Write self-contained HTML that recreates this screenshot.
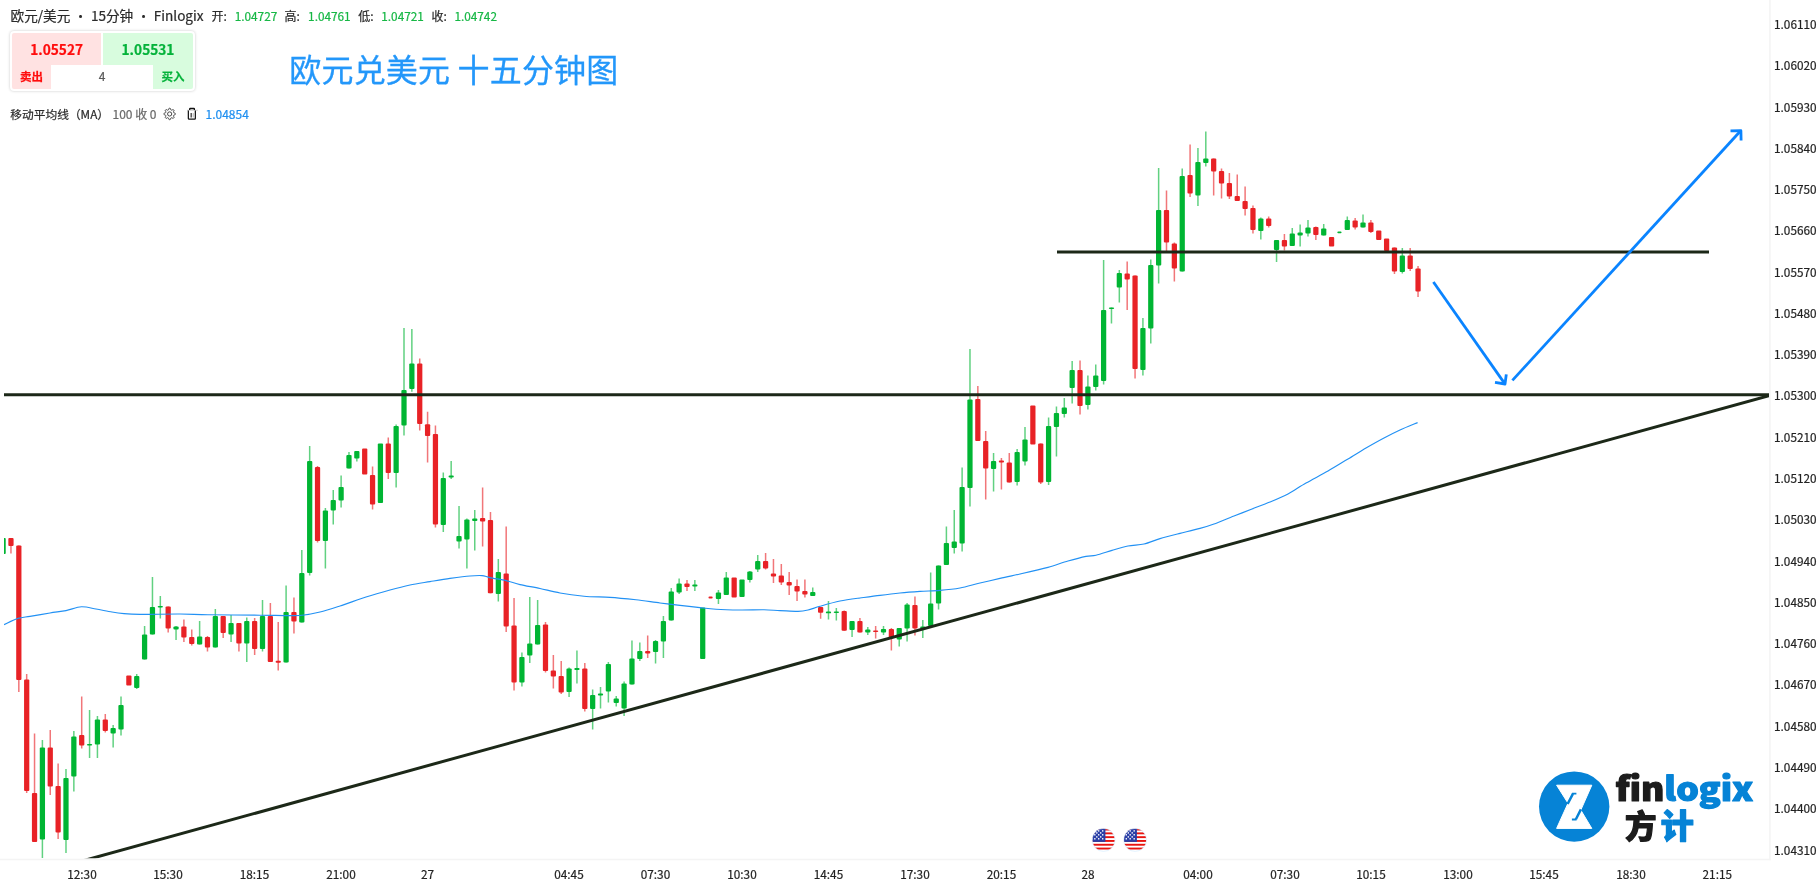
<!DOCTYPE html>
<html lang="zh-CN"><head><meta charset="utf-8"><title>欧元/美元 15分钟 Finlogix</title>
<style>
html,body{margin:0;padding:0;background:#fff}
body{width:1820px;height:885px;position:relative;overflow:hidden;font-family:"Noto Sans CJK SC","Liberation Sans",sans-serif;color:#262626}
svg{position:absolute;left:0;top:0;will-change:transform}
#txt{position:absolute;left:0;top:0;width:1820px;height:885px;will-change:transform;-webkit-text-stroke:0.22px currentColor}
.abs{position:absolute;white-space:nowrap}
.g{color:#16b745;font-size:11.8px}
</style></head><body>
<svg width="1820" height="885" viewBox="0 0 1820 885">
<defs><clipPath id="cp"><rect x="4" y="0" width="1765" height="858.3"/></clipPath></defs>
<line x1="0" y1="859.6" x2="1770.6" y2="859.6" stroke="#f4f4f4" stroke-width="1.5"/>
<line x1="1769.9" y1="0" x2="1769.9" y2="860.3" stroke="#f4f4f4" stroke-width="1.6"/>
<g clip-path="url(#cp)">
<g stroke="#e82226" stroke-width="1.5" stroke-opacity="0.62" fill="none"><path d="M10.96 538.0V553.6M18.82 545.6V692.0M26.68 674.0V793.0M34.54 733.6V842.0M50.26 730.0V795.0M58.13 763.6V839.0M81.71 696.4V748.6M105.29 714.0V732.4M168.18 606.6V632.4M183.90 619.4V642.0M191.76 629.6V645.6M207.48 636.0V651.6M223.20 616.0V638.0M238.92 623.0V651.6M254.65 618.0V655.0M270.37 603.0V662.0M278.23 622.0V670.6M293.95 597.4V633.6M317.53 466.0V542.4M372.56 466.6V509.4M388.28 437.6V479.0M419.72 358.5V430.6M427.58 411.7V462.4M435.44 425.5V527.6M482.61 487.4V546.6M490.47 512.0V593.2M506.19 526.4V632.0M514.05 598.0V690.4M545.50 622.0V672.4M553.36 655.0V688.4M561.22 661.0V694.0M584.80 663.0V711.6M647.69 635.6V658.0M686.99 580.0V591.0M765.60 553.0V569.6M773.46 559.0V583.0M781.32 564.0V585.0M789.18 572.0V595.0M797.04 579.6V601.0M804.90 579.6V597.6M820.62 607.0V618.8M844.21 610.6V630.7M859.93 618.0V632.4M875.65 626.0V638.6M891.37 628.0V650.6M914.95 596.6V635.6M977.84 386.0V441.0M985.70 431.0V499.6M1001.42 458.0V489.6M1009.28 453.0V482.4M1040.73 443.4V484.0M1080.03 360.4V414.4M1127.19 261.6V310.0M1135.06 275.6V378.6M1166.50 190.6V251.0M1174.36 242.6V281.6M1190.08 144.4V197.0M1213.66 158.6V195.4M1221.52 168.6V198.4M1229.38 173.0V199.0M1237.25 174.6V201.0M1245.11 186.6V215.6M1252.97 205.4V233.6M1268.69 216.6V227.6M1284.41 234.0V250.4M1315.85 226.6V240.0M1355.16 218.0V229.6M1370.88 220.0V233.0M1394.46 247.6V274.0M1410.18 248.0V271.0M1418.04 266.0V297.0"/></g>
<g stroke="#00b533" stroke-width="1.5" stroke-opacity="0.62" fill="none"><path d="M42.40 740.0V858.0M65.99 769.0V853.0M73.85 731.0V791.6M89.57 710.0V758.0M97.43 716.0V758.0M113.15 725.0V747.4M121.01 696.4V735.4M136.73 674.0V689.0M144.59 626.0V659.6M152.46 577.0V634.6M160.32 596.0V618.6M176.04 626.0V640.0M199.62 621.0V644.4M215.34 609.0V647.6M231.06 615.0V642.0M246.78 617.6V662.0M262.51 600.0V651.6M286.09 585.4V662.6M301.81 550.0V622.4M309.67 446.0V575.4M325.39 508.0V568.4M333.25 490.0V524.4M341.11 475.4V507.6M348.98 452.0V468.6M356.84 451.0V461.4M396.14 424.4V487.4M404.00 328.0V435.6M411.86 329.0V391.8M443.30 472.4V532.0M451.17 461.0V479.0M459.03 506.0V548.4M466.89 518.6V568.4M474.75 510.0V550.4M498.33 559.0V601.6M521.91 652.6V686.4M529.77 597.0V663.0M537.63 600.0V644.4M569.08 667.4V697.0M576.94 650.4V683.4M592.66 689.6V729.6M600.52 687.0V708.6M608.38 662.0V702.4M616.24 696.0V706.4M624.10 681.4V716.0M631.96 640.4V684.4M639.82 642.4V661.0M655.55 640.0V663.6M663.41 616.0V658.0M671.27 588.0V620.6M679.13 578.4V594.0M694.85 580.0V591.0M718.43 590.0V604.0M726.29 572.0V595.0M749.88 571.0V582.4M757.74 555.0V572.0M812.76 587.4V596.0M828.48 601.0V619.5M836.34 608.0V620.4M852.07 621.0V637.0M867.79 627.0V635.0M883.51 626.0V635.0M899.23 628.0V646.6M907.09 603.0V641.6M922.81 620.0V638.0M930.67 572.6V626.0M938.54 565.6V609.6M946.40 526.6V565.0M954.26 510.0V553.6M962.12 467.6V551.6M969.98 349.0V506.4M993.56 453.0V491.6M1017.14 449.0V485.6M1025.00 427.0V465.4M1048.59 417.6V485.0M1056.45 406.6V456.6M1064.31 398.0V417.6M1072.17 361.0V403.6M1087.89 375.6V409.6M1095.75 364.4V390.6M1103.61 260.0V384.6M1111.47 307.4V323.6M1119.33 270.0V302.4M1142.92 318.0V375.6M1150.78 259.4V343.6M1158.64 168.0V283.6M1182.22 168.6V271.6M1197.94 148.0V206.0M1205.80 131.6V166.6M1260.83 217.6V239.6M1276.55 240.0V262.0M1292.27 228.0V246.0M1300.13 224.4V246.4M1307.99 220.0V236.6M1323.71 224.0V235.6M1347.30 216.6V230.0M1363.02 214.6V227.4M1402.32 248.0V273.6"/></g>
<g fill="#e82226"><rect x="8.34" y="538.0" width="5.25" height="8.0" rx="1.0"/><rect x="16.20" y="545.6" width="5.25" height="134.4" rx="1.0"/><rect x="24.06" y="679.6" width="5.25" height="111.4" rx="1.0"/><rect x="31.92" y="793.0" width="5.25" height="49.0" rx="1.0"/><rect x="47.64" y="747.6" width="5.25" height="39.0" rx="1.0"/><rect x="55.50" y="786.0" width="5.25" height="46.4" rx="1.0"/><rect x="79.08" y="735.0" width="5.25" height="10.4" rx="1.0"/><rect x="102.67" y="719.4" width="5.25" height="11.6" rx="1.0"/><rect x="126.25" y="675.6" width="5.25" height="10.0" rx="1.0"/><rect x="165.55" y="606.6" width="5.25" height="22.0" rx="1.0"/><rect x="181.27" y="626.6" width="5.25" height="10.8" rx="1.0"/><rect x="189.13" y="637.0" width="5.25" height="7.0" rx="1.0"/><rect x="204.86" y="637.0" width="5.25" height="10.4" rx="1.0"/><rect x="220.58" y="616.0" width="5.25" height="17.0" rx="1.0"/><rect x="236.30" y="623.0" width="5.25" height="20.4" rx="1.0"/><rect x="252.02" y="621.0" width="5.25" height="28.0" rx="1.0"/><rect x="267.74" y="616.0" width="5.25" height="46.0" rx="1.0"/><rect x="275.60" y="660.8" width="5.25" height="2.0" rx="1.0"/><rect x="291.32" y="612.0" width="5.25" height="9.6" rx="1.0"/><rect x="314.91" y="467.0" width="5.25" height="74.0" rx="1.0"/><rect x="362.07" y="448.6" width="5.25" height="26.0" rx="1.0"/><rect x="369.93" y="475.0" width="5.25" height="29.6" rx="1.0"/><rect x="385.65" y="443.4" width="5.25" height="29.6" rx="1.0"/><rect x="417.10" y="363.6" width="5.25" height="60.4" rx="1.0"/><rect x="424.96" y="424.2" width="5.25" height="11.8" rx="1.0"/><rect x="432.82" y="434.0" width="5.25" height="90.4" rx="1.0"/><rect x="479.98" y="518.0" width="5.25" height="3.4" rx="1.0"/><rect x="487.84" y="520.0" width="5.25" height="73.2" rx="1.0"/><rect x="503.57" y="573.6" width="5.25" height="53.0" rx="1.0"/><rect x="511.43" y="625.6" width="5.25" height="56.8" rx="1.0"/><rect x="542.87" y="624.6" width="5.25" height="46.4" rx="1.0"/><rect x="550.73" y="670.4" width="5.25" height="6.2" rx="1.0"/><rect x="558.59" y="676.0" width="5.25" height="16.6" rx="1.0"/><rect x="582.17" y="668.6" width="5.25" height="40.4" rx="1.0"/><rect x="645.06" y="651.0" width="5.25" height="2.6" rx="1.0"/><rect x="684.36" y="583.6" width="5.25" height="3.4" rx="1.0"/><rect x="708.47" y="596.6" width="4.2" height="2.0" rx="1.0"/><rect x="731.53" y="577.6" width="5.25" height="20.0" rx="1.0"/><rect x="762.97" y="561.0" width="5.25" height="7.6" rx="1.0"/><rect x="770.83" y="573.6" width="5.25" height="2.8" rx="1.0"/><rect x="778.69" y="575.6" width="5.25" height="6.8" rx="1.0"/><rect x="786.56" y="582.0" width="5.25" height="3.4" rx="1.0"/><rect x="794.42" y="586.0" width="5.25" height="5.6" rx="1.0"/><rect x="802.28" y="591.0" width="5.25" height="3.6" rx="1.0"/><rect x="818.00" y="607.0" width="5.25" height="5.8" rx="1.0"/><rect x="841.58" y="611.0" width="5.25" height="19.7" rx="1.0"/><rect x="857.30" y="621.0" width="5.25" height="11.4" rx="1.0"/><rect x="873.02" y="630.4" width="5.25" height="1.6" rx="1.0"/><rect x="888.75" y="629.0" width="5.25" height="9.0" rx="1.0"/><rect x="912.33" y="605.0" width="5.25" height="23.4" rx="1.0"/><rect x="975.21" y="399.0" width="5.25" height="42.0" rx="1.0"/><rect x="983.08" y="441.0" width="5.25" height="27.6" rx="1.0"/><rect x="998.80" y="460.4" width="5.25" height="2.0" rx="1.0"/><rect x="1006.66" y="462.4" width="5.25" height="20.0" rx="1.0"/><rect x="1030.24" y="405.4" width="5.25" height="39.2" rx="1.0"/><rect x="1038.10" y="443.4" width="5.25" height="39.0" rx="1.0"/><rect x="1077.40" y="370.0" width="5.25" height="36.0" rx="1.0"/><rect x="1124.57" y="273.4" width="5.25" height="6.2" rx="1.0"/><rect x="1132.43" y="275.6" width="5.25" height="93.4" rx="1.0"/><rect x="1163.87" y="210.0" width="5.25" height="32.6" rx="1.0"/><rect x="1171.73" y="243.6" width="5.25" height="24.8" rx="1.0"/><rect x="1187.46" y="175.0" width="5.25" height="18.4" rx="1.0"/><rect x="1211.04" y="158.6" width="5.25" height="13.0" rx="1.0"/><rect x="1218.90" y="171.0" width="5.25" height="12.6" rx="1.0"/><rect x="1226.76" y="183.0" width="5.25" height="13.4" rx="1.0"/><rect x="1234.62" y="196.0" width="5.25" height="5.0" rx="1.0"/><rect x="1242.48" y="201.0" width="5.25" height="8.0" rx="1.0"/><rect x="1250.34" y="208.0" width="5.25" height="22.0" rx="1.0"/><rect x="1266.06" y="218.6" width="5.25" height="7.4" rx="1.0"/><rect x="1281.79" y="240.0" width="5.25" height="6.4" rx="1.0"/><rect x="1313.23" y="227.0" width="5.25" height="8.0" rx="1.0"/><rect x="1328.95" y="237.0" width="5.25" height="9.6" rx="1.0"/><rect x="1352.53" y="220.6" width="5.25" height="6.8" rx="1.0"/><rect x="1368.25" y="222.6" width="5.25" height="9.4" rx="1.0"/><rect x="1376.12" y="230.6" width="5.25" height="9.4" rx="1.0"/><rect x="1383.98" y="238.6" width="5.25" height="12.4" rx="1.0"/><rect x="1391.84" y="247.6" width="5.25" height="24.0" rx="1.0"/><rect x="1407.56" y="255.6" width="5.25" height="13.4" rx="1.0"/><rect x="1415.42" y="268.6" width="5.25" height="23.0" rx="1.0"/></g>
<g fill="#00b533"><rect x="0.48" y="538.0" width="5.25" height="16.0" rx="1.0"/><rect x="39.78" y="747.6" width="5.25" height="91.8" rx="1.0"/><rect x="63.36" y="778.0" width="5.25" height="62.0" rx="1.0"/><rect x="71.22" y="736.6" width="5.25" height="40.0" rx="1.0"/><rect x="86.94" y="744.0" width="5.25" height="1.6" rx="1.0"/><rect x="94.80" y="719.4" width="5.25" height="25.2" rx="1.0"/><rect x="110.53" y="728.0" width="5.25" height="5.4" rx="1.0"/><rect x="118.39" y="705.0" width="5.25" height="24.4" rx="1.0"/><rect x="134.11" y="676.0" width="5.25" height="12.0" rx="1.0"/><rect x="141.97" y="634.6" width="5.25" height="25.0" rx="1.0"/><rect x="149.83" y="607.0" width="5.25" height="27.6" rx="1.0"/><rect x="157.69" y="606.0" width="5.25" height="1.6" rx="1.0"/><rect x="173.41" y="626.4" width="5.25" height="3.0" rx="1.0"/><rect x="197.00" y="636.6" width="5.25" height="7.8" rx="1.0"/><rect x="212.72" y="616.0" width="5.25" height="31.6" rx="1.0"/><rect x="228.44" y="623.0" width="5.25" height="11.4" rx="1.0"/><rect x="244.16" y="621.0" width="5.25" height="22.6" rx="1.0"/><rect x="259.88" y="616.0" width="5.25" height="33.0" rx="1.0"/><rect x="283.46" y="612.0" width="5.25" height="50.6" rx="1.0"/><rect x="299.19" y="573.0" width="5.25" height="49.4" rx="1.0"/><rect x="307.05" y="461.0" width="5.25" height="112.0" rx="1.0"/><rect x="322.77" y="510.4" width="5.25" height="30.6" rx="1.0"/><rect x="330.63" y="500.0" width="5.25" height="10.4" rx="1.0"/><rect x="338.49" y="487.0" width="5.25" height="13.6" rx="1.0"/><rect x="346.35" y="455.0" width="5.25" height="13.6" rx="1.0"/><rect x="354.21" y="451.0" width="5.25" height="7.4" rx="1.0"/><rect x="377.79" y="443.4" width="5.25" height="59.6" rx="1.0"/><rect x="393.52" y="426.0" width="5.25" height="47.0" rx="1.0"/><rect x="401.38" y="390.0" width="5.25" height="35.6" rx="1.0"/><rect x="409.24" y="363.6" width="5.25" height="25.4" rx="1.0"/><rect x="440.68" y="478.0" width="5.25" height="47.0" rx="1.0"/><rect x="448.54" y="475.6" width="5.25" height="2.0" rx="1.0"/><rect x="456.40" y="536.0" width="5.25" height="5.6" rx="1.0"/><rect x="464.26" y="519.6" width="5.25" height="19.8" rx="1.0"/><rect x="472.12" y="518.6" width="5.25" height="2.4" rx="1.0"/><rect x="495.71" y="572.0" width="5.25" height="22.0" rx="1.0"/><rect x="519.29" y="657.0" width="5.25" height="25.4" rx="1.0"/><rect x="527.15" y="643.4" width="5.25" height="12.2" rx="1.0"/><rect x="535.01" y="625.0" width="5.25" height="19.4" rx="1.0"/><rect x="566.45" y="668.4" width="5.25" height="23.6" rx="1.0"/><rect x="574.31" y="668.0" width="5.25" height="2.0" rx="1.0"/><rect x="590.04" y="695.0" width="5.25" height="14.0" rx="1.0"/><rect x="597.90" y="693.4" width="5.25" height="2.0" rx="1.0"/><rect x="605.76" y="664.0" width="5.25" height="27.6" rx="1.0"/><rect x="613.62" y="698.6" width="5.25" height="4.4" rx="1.0"/><rect x="621.48" y="683.6" width="5.25" height="25.0" rx="1.0"/><rect x="629.34" y="658.4" width="5.25" height="26.0" rx="1.0"/><rect x="637.20" y="651.0" width="5.25" height="8.0" rx="1.0"/><rect x="652.92" y="641.0" width="5.25" height="11.0" rx="1.0"/><rect x="660.78" y="621.0" width="5.25" height="20.6" rx="1.0"/><rect x="668.64" y="591.4" width="5.25" height="29.2" rx="1.0"/><rect x="676.50" y="583.6" width="5.25" height="8.8" rx="1.0"/><rect x="692.23" y="584.4" width="5.25" height="2.0" rx="1.0"/><rect x="700.09" y="607.4" width="5.25" height="51.6" rx="1.0"/><rect x="715.81" y="592.6" width="5.25" height="6.4" rx="1.0"/><rect x="723.67" y="577.6" width="5.25" height="17.4" rx="1.0"/><rect x="739.39" y="579.6" width="5.25" height="17.4" rx="1.0"/><rect x="747.25" y="571.6" width="5.25" height="8.4" rx="1.0"/><rect x="755.11" y="561.0" width="5.25" height="8.6" rx="1.0"/><rect x="810.14" y="592.0" width="5.25" height="4.0" rx="1.0"/><rect x="825.86" y="611.6" width="5.25" height="1.7" rx="1.0"/><rect x="833.72" y="611.5" width="5.25" height="1.6" rx="1.0"/><rect x="849.44" y="621.0" width="5.25" height="9.0" rx="1.0"/><rect x="865.16" y="629.6" width="5.25" height="2.8" rx="1.0"/><rect x="880.88" y="629.0" width="5.25" height="3.6" rx="1.0"/><rect x="896.61" y="628.0" width="5.25" height="11.4" rx="1.0"/><rect x="904.47" y="604.4" width="5.25" height="24.0" rx="1.0"/><rect x="920.19" y="626.6" width="5.25" height="2.0" rx="1.0"/><rect x="928.05" y="603.4" width="5.25" height="22.6" rx="1.0"/><rect x="935.91" y="565.6" width="5.25" height="38.0" rx="1.0"/><rect x="943.77" y="543.0" width="5.25" height="22.0" rx="1.0"/><rect x="951.63" y="541.6" width="5.25" height="6.4" rx="1.0"/><rect x="959.49" y="487.0" width="5.25" height="56.6" rx="1.0"/><rect x="967.35" y="399.6" width="5.25" height="88.4" rx="1.0"/><rect x="990.94" y="461.0" width="5.25" height="8.0" rx="1.0"/><rect x="1014.52" y="452.0" width="5.25" height="30.0" rx="1.0"/><rect x="1022.38" y="439.6" width="5.25" height="21.8" rx="1.0"/><rect x="1045.96" y="426.0" width="5.25" height="56.0" rx="1.0"/><rect x="1053.82" y="413.0" width="5.25" height="14.0" rx="1.0"/><rect x="1061.68" y="407.6" width="5.25" height="6.4" rx="1.0"/><rect x="1069.54" y="370.0" width="5.25" height="18.0" rx="1.0"/><rect x="1085.27" y="386.6" width="5.25" height="18.4" rx="1.0"/><rect x="1093.13" y="375.6" width="5.25" height="11.4" rx="1.0"/><rect x="1100.99" y="310.0" width="5.25" height="71.0" rx="1.0"/><rect x="1108.85" y="307.4" width="5.25" height="1.6" rx="1.0"/><rect x="1116.71" y="273.0" width="5.25" height="14.4" rx="1.0"/><rect x="1140.29" y="328.0" width="5.25" height="42.0" rx="1.0"/><rect x="1148.15" y="265.0" width="5.25" height="63.6" rx="1.0"/><rect x="1156.01" y="210.0" width="5.25" height="55.6" rx="1.0"/><rect x="1179.60" y="176.0" width="5.25" height="95.6" rx="1.0"/><rect x="1195.32" y="162.0" width="5.25" height="33.4" rx="1.0"/><rect x="1203.18" y="158.6" width="5.25" height="4.4" rx="1.0"/><rect x="1258.20" y="218.6" width="5.25" height="12.4" rx="1.0"/><rect x="1273.92" y="240.0" width="5.25" height="10.0" rx="1.0"/><rect x="1289.65" y="233.6" width="5.25" height="12.4" rx="1.0"/><rect x="1297.51" y="232.6" width="5.25" height="3.0" rx="1.0"/><rect x="1305.37" y="227.6" width="5.25" height="6.0" rx="1.0"/><rect x="1321.09" y="228.4" width="5.25" height="7.2" rx="1.0"/><rect x="1337.34" y="231.6" width="4.2" height="1.6" rx="1.0"/><rect x="1344.67" y="220.0" width="5.25" height="10.0" rx="1.0"/><rect x="1360.39" y="222.6" width="5.25" height="4.8" rx="1.0"/><rect x="1399.70" y="255.6" width="5.25" height="16.4" rx="1.0"/></g>
<path d="M4.0 624.6C6.1 623.7 14.1 619.6 18.0 618.4C21.9 617.2 25.2 617.2 30.0 616.4C34.8 615.6 44.6 613.9 50.0 613.0C55.4 612.1 61.3 611.5 66.0 610.6C70.7 609.7 76.9 607.0 81.4 606.8C85.9 606.6 91.4 608.2 96.0 609.0C100.6 609.8 107.8 611.3 112.0 612.0C116.2 612.7 119.8 613.2 124.0 613.6C128.2 614.0 131.6 614.3 140.0 614.4C148.4 614.5 169.8 613.9 180.0 614.0C190.2 614.1 196.0 614.6 208.0 614.8C220.0 615.0 248.3 615.1 260.0 615.2C271.7 615.3 279.7 615.6 286.0 615.6C292.3 615.6 296.9 615.7 302.0 615.2C307.1 614.7 314.3 613.4 320.0 612.0C325.7 610.6 333.1 608.2 340.0 606.0C346.9 603.8 358.5 599.4 366.0 597.0C373.5 594.6 383.4 591.8 390.0 590.0C396.6 588.2 404.0 586.3 410.0 585.0C416.0 583.7 424.0 582.6 430.0 581.6C436.0 580.6 444.0 579.2 450.0 578.4C456.0 577.6 465.2 576.4 470.0 576.0C474.8 575.6 479.0 575.4 482.0 575.6C485.0 575.8 486.4 576.9 490.0 577.6C493.6 578.4 501.5 579.6 506.0 580.6C510.5 581.6 514.9 583.4 520.0 584.6C525.1 585.8 534.0 587.2 540.0 588.5C546.0 589.8 553.4 591.8 560.0 593.0C566.6 594.2 576.5 595.5 584.0 596.2C591.5 596.9 602.2 596.9 610.0 597.4C617.8 597.9 628.5 599.0 636.0 599.8C643.5 600.6 653.4 602.2 660.0 603.0C666.6 603.8 674.0 604.7 680.0 605.4C686.0 606.1 694.6 607.0 700.0 607.6C705.4 608.2 710.0 608.8 716.0 609.2C722.0 609.6 732.8 609.9 740.0 610.0C747.2 610.1 758.0 609.7 764.0 609.8C770.0 609.9 774.9 610.4 780.0 610.6C785.1 610.8 793.8 611.5 798.0 611.4C802.2 611.3 804.7 610.8 808.0 610.0C811.3 609.2 815.2 607.6 820.0 606.3C824.8 604.9 834.0 602.2 840.0 601.0C846.0 599.8 854.0 598.8 860.0 598.0C866.0 597.2 874.0 596.1 880.0 595.4C886.0 594.6 894.0 593.6 900.0 593.0C906.0 592.4 914.0 591.8 920.0 591.4C926.0 591.0 934.0 590.9 940.0 590.4C946.0 589.9 954.0 589.1 960.0 588.0C966.0 586.9 974.0 584.4 980.0 583.0C986.0 581.6 994.0 579.8 1000.0 578.4C1006.0 577.0 1012.8 575.6 1020.0 574.0C1027.2 572.4 1040.8 569.4 1048.0 567.4C1055.2 565.4 1062.3 562.6 1068.0 561.0C1073.7 559.4 1081.8 557.3 1086.0 556.4C1090.2 555.5 1092.1 556.1 1096.0 555.2C1099.9 554.3 1107.2 551.8 1112.0 550.4C1116.8 549.0 1123.2 547.0 1128.0 546.0C1132.8 545.0 1139.2 545.1 1144.0 544.0C1148.8 542.9 1154.6 540.2 1160.0 538.6C1165.4 537.0 1174.0 534.9 1180.0 533.4C1186.0 531.9 1194.9 529.8 1200.0 528.4C1205.1 527.0 1208.9 525.9 1214.0 524.0C1219.1 522.1 1228.3 518.2 1234.0 516.0C1239.7 513.8 1246.6 511.1 1252.0 509.0C1257.4 506.9 1264.6 504.2 1270.0 502.0C1275.4 499.8 1282.6 496.9 1288.0 494.0C1293.4 491.1 1300.0 486.4 1306.0 483.0C1312.0 479.6 1321.7 474.6 1328.0 471.0C1334.3 467.4 1342.3 462.4 1348.0 459.0C1353.7 455.6 1360.6 451.1 1366.0 448.0C1371.4 444.9 1378.9 440.7 1384.0 438.0C1389.1 435.3 1395.0 432.3 1400.0 430.0C1405.0 427.7 1415.0 423.7 1417.6 422.6" fill="none" stroke="#2291f4" stroke-width="1.15" stroke-linejoin="round"/>
<line x1="4" y1="394.7" x2="1769" y2="394.7" stroke="#1c2818" stroke-width="3.1"/>
<line x1="1057" y1="252" x2="1709" y2="252" stroke="#1c2818" stroke-width="2.9"/>
<line x1="80" y1="861.58" x2="1769" y2="395.6" stroke="#1c2818" stroke-width="3"/>
<g fill="none" stroke="#0a84ff" stroke-width="2.8" stroke-linecap="butt" stroke-linejoin="round">
<path d="M1433.4 282L1504.9 383.9"/><path d="M1495 382.3L1505 384L1506.3 374.4"/>
<path d="M1512.4 380.4L1740.7 130.8"/><path d="M1730.5 130.9L1740.9 130.7L1741.1 140.5"/>
</g>
<clipPath id="f1"><circle cx="1103.6" cy="839.9" r="11.3"/></clipPath><g clip-path="url(#f1)"><rect x="1092.3" y="828.6" width="22.6" height="22.6" fill="#fff"/><rect x="1092.3" y="828.60" width="22.6" height="1.9" fill="#e81410"/><rect x="1092.3" y="832.40" width="22.6" height="1.9" fill="#e81410"/><rect x="1092.3" y="836.20" width="22.6" height="1.9" fill="#e81410"/><rect x="1092.3" y="840.00" width="22.6" height="1.9" fill="#e81410"/><rect x="1092.3" y="843.80" width="22.6" height="1.9" fill="#e81410"/><rect x="1092.3" y="847.60" width="22.6" height="1.9" fill="#e81410"/><rect x="1092.3" y="828.6" width="13.100000000000001" height="13.30" fill="#2a3fa6"/><rect x="1098.00" y="830.20" width="1.4" height="1.4" fill="#fff"/><rect x="1102.00" y="830.20" width="1.4" height="1.4" fill="#fff"/><rect x="1096.10" y="832.20" width="1.4" height="1.4" fill="#fff"/><rect x="1100.00" y="832.20" width="1.4" height="1.4" fill="#fff"/><rect x="1094.10" y="834.10" width="1.4" height="1.4" fill="#fff"/><rect x="1098.00" y="834.10" width="1.4" height="1.4" fill="#fff"/><rect x="1102.00" y="834.10" width="1.4" height="1.4" fill="#fff"/><rect x="1096.10" y="836.20" width="1.4" height="1.4" fill="#fff"/><rect x="1100.00" y="836.20" width="1.4" height="1.4" fill="#fff"/><rect x="1094.10" y="838.10" width="1.4" height="1.4" fill="#fff"/><rect x="1098.00" y="838.10" width="1.4" height="1.4" fill="#fff"/><rect x="1102.00" y="838.10" width="1.4" height="1.4" fill="#fff"/></g><circle cx="1103.6" cy="839.9" r="11.5" fill="none" stroke="#cfe9ff" stroke-opacity="0.7" stroke-width="0.8"/><clipPath id="f2"><circle cx="1135.1" cy="839.9" r="11.3"/></clipPath><g clip-path="url(#f2)"><rect x="1123.8" y="828.6" width="22.6" height="22.6" fill="#fff"/><rect x="1123.8" y="828.60" width="22.6" height="1.9" fill="#e81410"/><rect x="1123.8" y="832.40" width="22.6" height="1.9" fill="#e81410"/><rect x="1123.8" y="836.20" width="22.6" height="1.9" fill="#e81410"/><rect x="1123.8" y="840.00" width="22.6" height="1.9" fill="#e81410"/><rect x="1123.8" y="843.80" width="22.6" height="1.9" fill="#e81410"/><rect x="1123.8" y="847.60" width="22.6" height="1.9" fill="#e81410"/><rect x="1123.8" y="828.6" width="13.100000000000001" height="13.30" fill="#2a3fa6"/><rect x="1129.50" y="830.20" width="1.4" height="1.4" fill="#fff"/><rect x="1133.50" y="830.20" width="1.4" height="1.4" fill="#fff"/><rect x="1127.60" y="832.20" width="1.4" height="1.4" fill="#fff"/><rect x="1131.50" y="832.20" width="1.4" height="1.4" fill="#fff"/><rect x="1125.60" y="834.10" width="1.4" height="1.4" fill="#fff"/><rect x="1129.50" y="834.10" width="1.4" height="1.4" fill="#fff"/><rect x="1133.50" y="834.10" width="1.4" height="1.4" fill="#fff"/><rect x="1127.60" y="836.20" width="1.4" height="1.4" fill="#fff"/><rect x="1131.50" y="836.20" width="1.4" height="1.4" fill="#fff"/><rect x="1125.60" y="838.10" width="1.4" height="1.4" fill="#fff"/><rect x="1129.50" y="838.10" width="1.4" height="1.4" fill="#fff"/><rect x="1133.50" y="838.10" width="1.4" height="1.4" fill="#fff"/></g><circle cx="1135.1" cy="839.9" r="11.5" fill="none" stroke="#cfe9ff" stroke-opacity="0.7" stroke-width="0.8"/>
<circle cx="1574.2" cy="806.6" r="35.2" fill="#0683d6"/>
<path d="M1556.6 785.2H1591.8L1580.8 810.1L1591.8 828.4H1556.6L1568 803.2Z" fill="#fff" stroke="#fff" stroke-width="1" stroke-linejoin="round"/>
<path d="M1567.6 804L1572.9 793.9M1580.9 809.4L1575.9 819.2" stroke="#0683d6" stroke-width="2.5" fill="none"/><path d="M1571.9 793.6H1576.4M1571.9 819.5H1576.6" stroke="#0683d6" stroke-width="1.8" fill="none"/>
<text x="1615.4" y="800.7" font-family="'Noto Sans CJK SC','Liberation Sans',sans-serif" font-weight="900" font-size="32.5" textLength="138" lengthAdjust="spacingAndGlyphs" stroke-linejoin="round"><tspan fill="#1c1c1c" stroke="#1c1c1c" stroke-width="1.2">fin</tspan><tspan fill="#0683d6" stroke="#0683d6" stroke-width="1.2">logix</tspan></text>
<text x="1625" y="838" font-family="'Noto Sans CJK SC','Liberation Sans',sans-serif" font-weight="900" font-size="33" stroke-linejoin="round"><tspan fill="#1c1c1c" stroke="#1c1c1c" stroke-width="1.2" font-size="31.5">方</tspan><tspan dx="4.2" fill="#0683d6" stroke="#0683d6" stroke-width="1.2">计</tspan></text>
</g>
<g font-family="'Noto Sans CJK SC','Liberation Sans',sans-serif" font-size="11.8" fill="#222" stroke="#222" stroke-width="0.2"><text x="1774.05" y="29.00">1.06110</text><text x="1774.05" y="70.28">1.06020</text><text x="1774.05" y="111.55">1.05930</text><text x="1774.05" y="152.82">1.05840</text><text x="1774.05" y="194.10">1.05750</text><text x="1774.05" y="235.38">1.05660</text><text x="1774.05" y="276.65">1.05570</text><text x="1774.05" y="317.93">1.05480</text><text x="1774.05" y="359.20">1.05390</text><text x="1774.05" y="400.47">1.05300</text><text x="1774.05" y="441.75">1.05210</text><text x="1774.05" y="483.02">1.05120</text><text x="1774.05" y="524.30">1.05030</text><text x="1774.05" y="565.57">1.04940</text><text x="1774.05" y="606.85">1.04850</text><text x="1774.05" y="648.12">1.04760</text><text x="1774.05" y="689.40">1.04670</text><text x="1774.05" y="730.67">1.04580</text><text x="1774.05" y="771.95">1.04490</text><text x="1774.05" y="813.23">1.04400</text><text x="1774.05" y="854.50">1.04310</text><text x="82" y="879.1" text-anchor="middle">12:30</text><text x="168" y="879.1" text-anchor="middle">15:30</text><text x="254.5" y="879.1" text-anchor="middle">18:15</text><text x="341" y="879.1" text-anchor="middle">21:00</text><text x="427.5" y="879.1" text-anchor="middle">27</text><text x="569" y="879.1" text-anchor="middle">04:45</text><text x="655.5" y="879.1" text-anchor="middle">07:30</text><text x="742" y="879.1" text-anchor="middle">10:30</text><text x="828.5" y="879.1" text-anchor="middle">14:45</text><text x="915" y="879.1" text-anchor="middle">17:30</text><text x="1001.5" y="879.1" text-anchor="middle">20:15</text><text x="1088" y="879.1" text-anchor="middle">28</text><text x="1198" y="879.1" text-anchor="middle">04:00</text><text x="1285" y="879.1" text-anchor="middle">07:30</text><text x="1371" y="879.1" text-anchor="middle">10:15</text><text x="1458" y="879.1" text-anchor="middle">13:00</text><text x="1544" y="879.1" text-anchor="middle">15:45</text><text x="1631" y="879.1" text-anchor="middle">18:30</text><text x="1717.3" y="879.1" text-anchor="middle">21:15</text></g>
</svg>
<div id="txt">
<div class="abs" id="hdr" style="left:10.6px;top:5.2px;font-size:13.6px;line-height:20px;word-spacing:.45px;color:#2b2b2b">欧元/美元 ・ 15分钟 ・ Finlogix</div>
<div class="abs" id="ohlc" style="left:0;top:7px;font-size:12px;line-height:18px;color:#2b2b2b;height:18px;width:520px">
<span class="abs" style="left:211.6px">开:</span><span class="abs g" style="left:234.7px">1.04727</span>
<span class="abs" style="left:284.6px">高:</span><span class="abs g" style="left:308.1px">1.04761</span>
<span class="abs" style="left:358.3px">低:</span><span class="abs g" style="left:381.3px">1.04721</span>
<span class="abs" style="left:431.5px">收:</span><span class="abs g" style="left:454.4px">1.04742</span></div>
<div class="abs" id="bs" style="left:10px;top:31px;width:185px;height:60px;border-radius:4px;box-shadow:0 0 3px rgba(0,0,0,.22);background:#fff">
 <div class="abs" style="left:2px;top:2.3px;width:89.3px;height:32px;background:#ffe2e2;border-radius:2px 0 0 0"></div>
 <div class="abs" style="left:2px;top:34px;width:38.8px;height:23.8px;background:#ffe2e2;border-radius:0 0 0 2px"></div>
 <div class="abs" style="left:93px;top:2.3px;width:90px;height:32px;background:#d8fcde;border-radius:0 2px 0 0"></div>
 <div class="abs" style="left:143.2px;top:34px;width:39.8px;height:23.8px;background:#d8fcde;border-radius:0 0 2px 0"></div>
 <div class="abs" id="sellp" style="left:2px;top:6.4px;width:89.3px;text-align:center;font-size:13.7px;line-height:24px;font-weight:700;color:#ff0d0d">1.05527</div>
 <div class="abs" id="buyp" style="left:93px;top:6.4px;width:90px;text-align:center;font-size:13.7px;line-height:24px;font-weight:700;color:#04b23a">1.05531</div>
 <div class="abs" id="sell" style="left:2px;top:35.3px;width:38.8px;text-align:center;font-size:11.5px;line-height:20px;font-weight:700;color:#ff0d0d">卖出</div>
 <div class="abs" id="buy" style="left:143.2px;top:35.3px;width:39.8px;text-align:center;font-size:11.5px;line-height:20px;font-weight:700;color:#04b23a">买入</div>
 <div class="abs" id="qty" style="left:40.8px;top:35.3px;width:102.4px;text-align:center;font-size:12px;line-height:20px;color:#5a5a5a">4</div>
</div>
<div class="abs" id="title" style="left:289.3px;top:43.8px;font-size:32px;letter-spacing:.18px;line-height:48px;color:#2397fa;-webkit-text-stroke:0.3px #2397fa">欧元兑美元 十五分钟图</div>
<div class="abs" id="ma1" style="left:10.3px;top:105px;font-size:11.72px;line-height:18px;color:#2b2b2b">移动平均线（MA）</div>
<div class="abs" id="ma2" style="left:112.5px;top:105px;font-size:12px;line-height:18px;color:#6a6a6a">100 收 0</div>
<svg width="40" height="16" viewBox="0 0 40 16" style="left:162px;top:106px">
 <g fill="none" stroke="#3c3c3c" stroke-width="0.95" stroke-linejoin="round"><path d="M13.35 7.95L13.34 8.32L13.15 8.67L12.50 8.92L11.85 9.08L11.63 9.30L11.53 9.56L11.42 9.81L11.42 10.12L11.77 10.70L12.05 11.33L11.94 11.71L11.68 11.98L11.41 12.24L11.03 12.35L10.40 12.07L9.83 11.72L9.51 11.72L9.26 11.83L9.00 11.93L8.78 12.15L8.62 12.80L8.37 13.45L8.02 13.64L7.65 13.65L7.28 13.64L6.93 13.45L6.68 12.80L6.52 12.15L6.30 11.93L6.04 11.83L5.79 11.72L5.48 11.72L4.90 12.07L4.27 12.35L3.89 12.24L3.62 11.98L3.36 11.71L3.25 11.33L3.53 10.70L3.88 10.12L3.88 9.81L3.77 9.56L3.67 9.30L3.45 9.08L2.80 8.92L2.15 8.67L1.96 8.32L1.95 7.95L1.96 7.58L2.15 7.23L2.80 6.98L3.45 6.82L3.67 6.60L3.77 6.34L3.88 6.09L3.88 5.78L3.53 5.20L3.25 4.57L3.36 4.19L3.62 3.92L3.89 3.66L4.27 3.55L4.90 3.83L5.47 4.18L5.79 4.18L6.04 4.07L6.30 3.97L6.52 3.75L6.68 3.10L6.93 2.45L7.28 2.26L7.65 2.25L8.02 2.26L8.37 2.45L8.62 3.10L8.78 3.75L9.00 3.97L9.26 4.07L9.51 4.18L9.83 4.18L10.40 3.83L11.03 3.55L11.41 3.66L11.68 3.92L11.94 4.19L12.05 4.57L11.77 5.20L11.42 5.77L11.42 6.09L11.53 6.34L11.63 6.60L11.85 6.82L12.50 6.98L13.15 7.23L13.34 7.58Z"/><circle cx="7.65" cy="7.95" r="2.1"/></g>
 <path d="M25 4.25H35.8" stroke="#c4c4c4" stroke-width="0.8" fill="none"/>
 <path d="M27.7 3.9V2.95Q27.7 2.5 28.2 2.5H31.9Q32.4 2.5 32.4 2.95V3.9" stroke="#111" stroke-width="1.3" fill="none"/>
 <path d="M26.35 4.6V12.4Q26.35 13.2 27.1 13.2H32.6Q33.35 13.2 33.35 12.4V4.6" stroke="#151515" stroke-width="1.25" fill="none"/>
 <path d="M29.2 7.1V11.4" stroke="#555" stroke-width="1.5" fill="none"/><path d="M31.4 7.1V11.4" stroke="#c8c8c8" stroke-width="1.6" fill="none"/>
</svg>
<div class="abs" id="ma3" style="left:205.5px;top:105px;font-size:12px;line-height:18px;color:#1f8ff0">1.04854</div>
</div>
</body></html>
